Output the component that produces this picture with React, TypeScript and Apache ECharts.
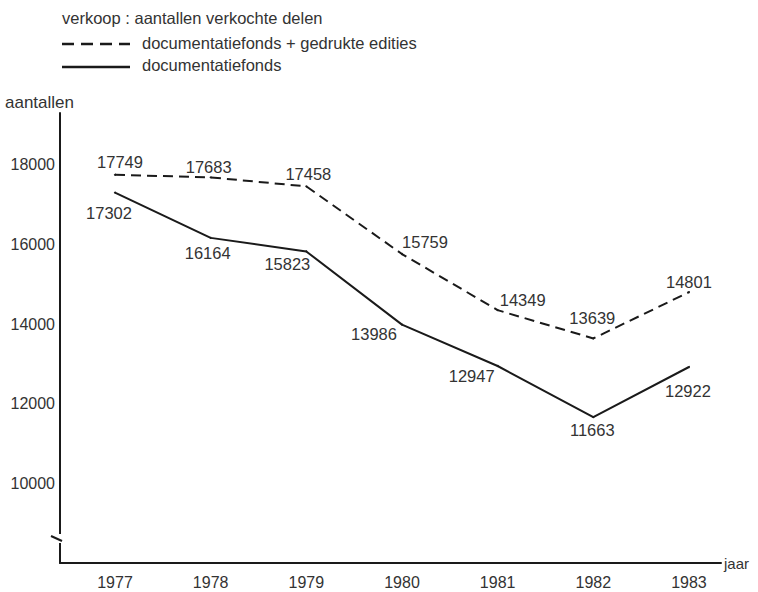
import React, { useEffect, useRef } from 'react';
import * as echarts from 'echarts';

const years = [1977, 1978, 1979, 1980, 1981, 1982, 1983];
// documentatiefonds + gedrukte edities (dashed)
const totalSales = [17749, 17683, 17458, 15759, 14349, 13639, 14801];
// documentatiefonds (solid)
const fundSales = [17302, 16164, 15823, 13986, 12947, 11663, 12922];
const yTickLabels = [10000, 12000, 14000, 16000, 18000];

const titleText = 'verkoop : aantallen verkochte delen';
const legendTotal = 'documentatiefonds + gedrukte edities';
const legendFund = 'documentatiefonds';
const yName = 'aantallen';
const xName = 'jaar';

// label placement (layout only)
const totalLabelOffsets = [[5, -13], [-2, -10], [2, -12], [23, -12], [25, -10], [-1, -20], [0, -10]];
const fundLabelOffsets = [[-6, 20], [-3, 15], [-19, 13], [-28, 9], [-26, 10], [-1, 13], [-1, 24]];

const FONT = '"Liberation Sans", Arial, Helvetica, sans-serif';
const TXT = '#333';
const INK = '#1a1a1a';

export default function App() {
  const ref = useRef<HTMLDivElement>(null);
  useEffect(() => {
    if (!ref.current) return;
    const chart = echarts.init(ref.current, null, { renderer: 'svg' });
    const labelBase = {
      show: true,
      position: 'inside',
      fontSize: 16.5,
      color: TXT,
      fontFamily: FONT,
      formatter: (p: any) => String(p.value[1]),
    };
    chart.setOption({
      animation: false,
      backgroundColor: '#fff',
      grid: { left: 60, right: 37, top: 113, bottom: 29, outerBoundsMode: 'none' },
      xAxis: {
        type: 'value',
        min: 1976.425,
        max: 1983.335,
        name: xName,
        nameLocation: 'end',
        nameGap: 3,
        nameTextStyle: { fontSize: 15, color: TXT, fontFamily: FONT, verticalAlign: 'middle', align: 'left', padding: [8, 0, 0, 0] },
        axisLine: { show: true, lineStyle: { color: INK, width: 2 } },
        axisTick: { show: false },
        splitLine: { show: false },
        axisLabel: {
          customValues: years,
          margin: 11,
          fontSize: 16,
          color: TXT,
          fontFamily: FONT,
          formatter: (v: number) => String(Math.round(v)),
        },
      },
      yAxis: {
        type: 'value',
        min: 8000,
        max: 19300,
        interval: 2000,
        axisLine: { show: true, lineStyle: { color: INK, width: 2 } },
        axisTick: { show: false },
        splitLine: { show: false },
        axisLabel: {
          margin: 5,
          fontSize: 16,
          color: TXT,
          fontFamily: FONT,
          showMaxLabel: false,
          formatter: (v: number) => (yTickLabels.includes(v) ? String(v) : ''),
        },
      },
      series: [
        {
          name: legendTotal,
          type: 'line',
          symbol: 'circle',
          symbolSize: 2,
          itemStyle: { color: INK },
          lineStyle: { color: INK, width: 2, type: [10, 6] },
          data: years.map((y, i) => ({ value: [y, totalSales[i]], label: { offset: totalLabelOffsets[i] } })),
          label: labelBase,
        },
        {
          name: legendFund,
          type: 'line',
          symbol: 'circle',
          symbolSize: 2,
          itemStyle: { color: INK },
          lineStyle: { color: INK, width: 2 },
          data: years.map((y, i) => ({ value: [y, fundSales[i]], label: { offset: fundLabelOffsets[i] } })),
          label: labelBase,
        },
      ],
      graphic: [
        { type: 'text', left: 62, top: 9, style: { text: titleText, fontSize: 16.5, fill: TXT, fontFamily: FONT } },
        { type: 'line', shape: { x1: 62, y1: 44, x2: 130, y2: 44 }, style: { stroke: INK, lineWidth: 2.5, lineDash: [12, 7] } },
        { type: 'text', left: 142, top: 34, style: { text: legendTotal, fontSize: 16.5, fill: TXT, fontFamily: FONT } },
        { type: 'line', shape: { x1: 62, y1: 67, x2: 130, y2: 67 }, style: { stroke: INK, lineWidth: 2.5 } },
        { type: 'text', left: 142, top: 56, style: { text: legendFund, fontSize: 16.5, fill: TXT, fontFamily: FONT } },
        { type: 'text', left: 5, top: 94, style: { text: yName, fontSize: 17, fill: TXT, fontFamily: FONT } },
        { type: 'rect', shape: { x: 56, y: 534, width: 8, height: 9 }, style: { fill: '#fff' }, z: 100 },
        { type: 'line', shape: { x1: 51, y1: 536, x2: 62, y2: 541 }, style: { stroke: INK, lineWidth: 2 }, z: 101 },
      ],
    });
    return () => chart.dispose();
  }, []);
  return (
    <div
      ref={ref}
      style={{ position: 'fixed', left: 0, top: 0, width: 758, height: 592, background: '#fff' }}
    />
  );
}
